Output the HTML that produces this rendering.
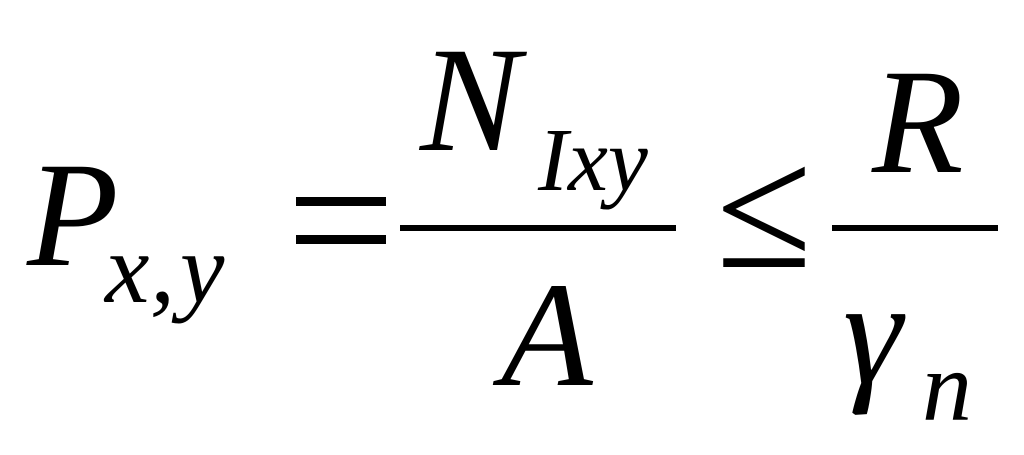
<!DOCTYPE html>
<html><head><style>
html,body{margin:0;padding:0;background:#fff;}
svg{display:block;}
text{font-family:"Liberation Serif",serif;font-style:italic;fill:#000;}
</style></head><body>
<svg width="1024" height="455" viewBox="0 0 1024 455" xmlns="http://www.w3.org/2000/svg">
<text x="27" y="265" font-size="150">P</text>
<text x="105" y="302" font-size="100">x</text>
<text x="150" y="302" font-size="100">,</text>
<text x="180" y="302" font-size="100">y</text>
<rect x="296" y="197" width="90" height="9" fill="#000"/>
<rect x="296" y="235" width="90" height="9" fill="#000"/>
<text x="420" y="150" font-size="150">N</text>
<text x="538" y="190" font-size="90">Ixy</text>
<rect x="400" y="225" width="276" height="6" fill="#000"/>
<text x="501" y="385" font-size="150">A</text>
<text x="716" y="267" font-size="175" style="font-style:normal">≤</text>
<rect x="832" y="225" width="166" height="6" fill="#000"/>
<text x="872" y="172" font-size="150">R</text>
<text x="843" y="383" font-size="150">γ</text>
<text x="922" y="420" font-size="100">n</text>
</svg>
</body></html>
